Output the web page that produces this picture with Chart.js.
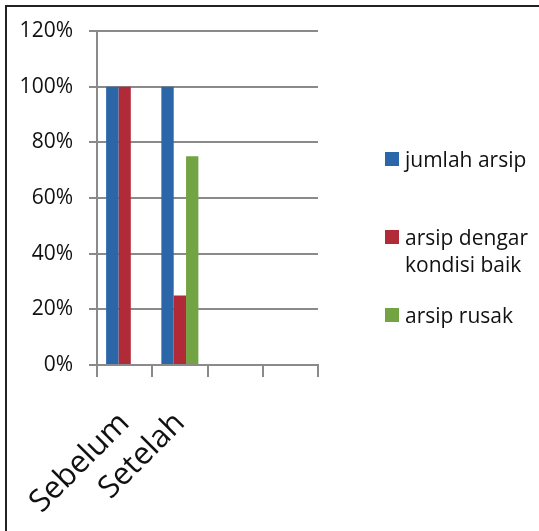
<!DOCTYPE html>
<html>
<head>
<meta charset="utf-8">
<script src="https://cdn.jsdelivr.net/npm/chart.js@4.4.1/dist/chart.umd.min.js"></script>
<style>
    html, body { margin: 0; padding: 0; background: #ffffff; overflow: hidden; }
    #wrap { position: relative; width: 539px; height: 531px; }
    #frame {
        position: absolute; left: 5px; top: 5px; width: 700px; height: 700px;
        border: 2px solid #222222; pointer-events: none;
    }
</style>
</head>
<body>
<div id="wrap">
    <canvas id="arsipChart" width="539" height="531"></canvas>
    <div id="frame"></div>
</div>
<script>
// Kondisi arsip sebelum / setelah (persen)
var categories = ['Sebelum', 'Setelah', '', ''];
var jumlahArsip = [100, 100, null, null];
var arsipBaik = [100, 25, null, null];
var arsipRusak = [0, 75, null, null];
var seriesLabels = [['jumlah arsip'], ['arsip dengar', 'kondisi baik'], ['arsip rusak']];
var seriesColors = ['#2b66a9', '#b12a38', '#72a443'];
var yMax = 120;
var yStep = 20;

// Side legend drawn straight on the canvas, one entry per dataset
var sideLegend = {
    id: 'sideLegend',
    afterDraw: function(chart, args, opts) {
        var ctx = chart.ctx;
        ctx.save();
        ctx.font = opts.font;
        ctx.textBaseline = 'alphabetic';
        ctx.textAlign = 'left';
        chart.data.datasets.forEach(function(ds, i) {
            var base = opts.baselines[i];
            ctx.fillStyle = ds.backgroundColor;
            ctx.fillRect(opts.boxX, base - 15, opts.boxSize, opts.boxSize);
            ctx.fillStyle = opts.color;
            ds.legendLines.forEach(function(line, j) {
                ctx.fillText(line, opts.textX, base + j * opts.lineHeight);
            });
        });
        ctx.restore();
    }
};

var datasets = [jumlahArsip, arsipBaik, arsipRusak].map(function(values, i) {
    return {
        label: seriesLabels[i].join(' '),
        legendLines: seriesLabels[i],
        data: values,
        backgroundColor: seriesColors[i],
        borderWidth: 0
    };
});

var gridColor = '#8a8a8a';
var textColor = '#111111';

new Chart(document.getElementById('arsipChart'), {
    type: 'bar',
    data: {
        labels: categories,
        datasets: datasets
    },
    plugins: [sideLegend],
    options: {
        responsive: false,
        animation: false,
        layout: {
            padding: { top: 31, left: 0, right: 221, bottom: 0 }
        },
        datasets: {
            bar: {
                categoryPercentage: 0.67,
                barPercentage: 1.0
            }
        },
        scales: {
            x: {
                grid: {
                    display: true,
                    drawOnChartArea: false,
                    offset: true,
                    color: gridColor,
                    lineWidth: 2,
                    tickLength: 12
                },
                border: { color: gridColor, width: 2 },
                ticks: {
                    autoSkip: false,
                    minRotation: 45,
                    maxRotation: 45,
                    padding: 28,
                    color: textColor,
                    font: { family: 'Open Sans', size: 31 }
                },
                afterFit: function(scale) {
                    // rotated labels may hang left; keep the plot where it is
                    scale.height = 166;
                    scale.paddingLeft = 0;
                    scale.paddingRight = 0;
                }
            },
            y: {
                min: 0,
                max: yMax,
                grid: {
                    color: gridColor,
                    lineWidth: 2,
                    tickLength: 8
                },
                border: { color: gridColor, width: 2 },
                ticks: {
                    stepSize: yStep,
                    padding: 16,
                    color: textColor,
                    font: { family: 'Open Sans', size: 21 },
                    callback: function(value) { return value + '%'; }
                },
                afterFit: function(scale) { scale.width = 97; }
            }
        },
        plugins: {
            legend: { display: false },
            tooltip: { enabled: false },
            sideLegend: {
                font: '21px "Open Sans"',
                color: textColor,
                boxX: 385,
                boxSize: 14,
                textX: 405,
                baselines: [167, 245, 323],
                lineHeight: 27
            }
        }
    }
});
</script>
</body>
</html>
